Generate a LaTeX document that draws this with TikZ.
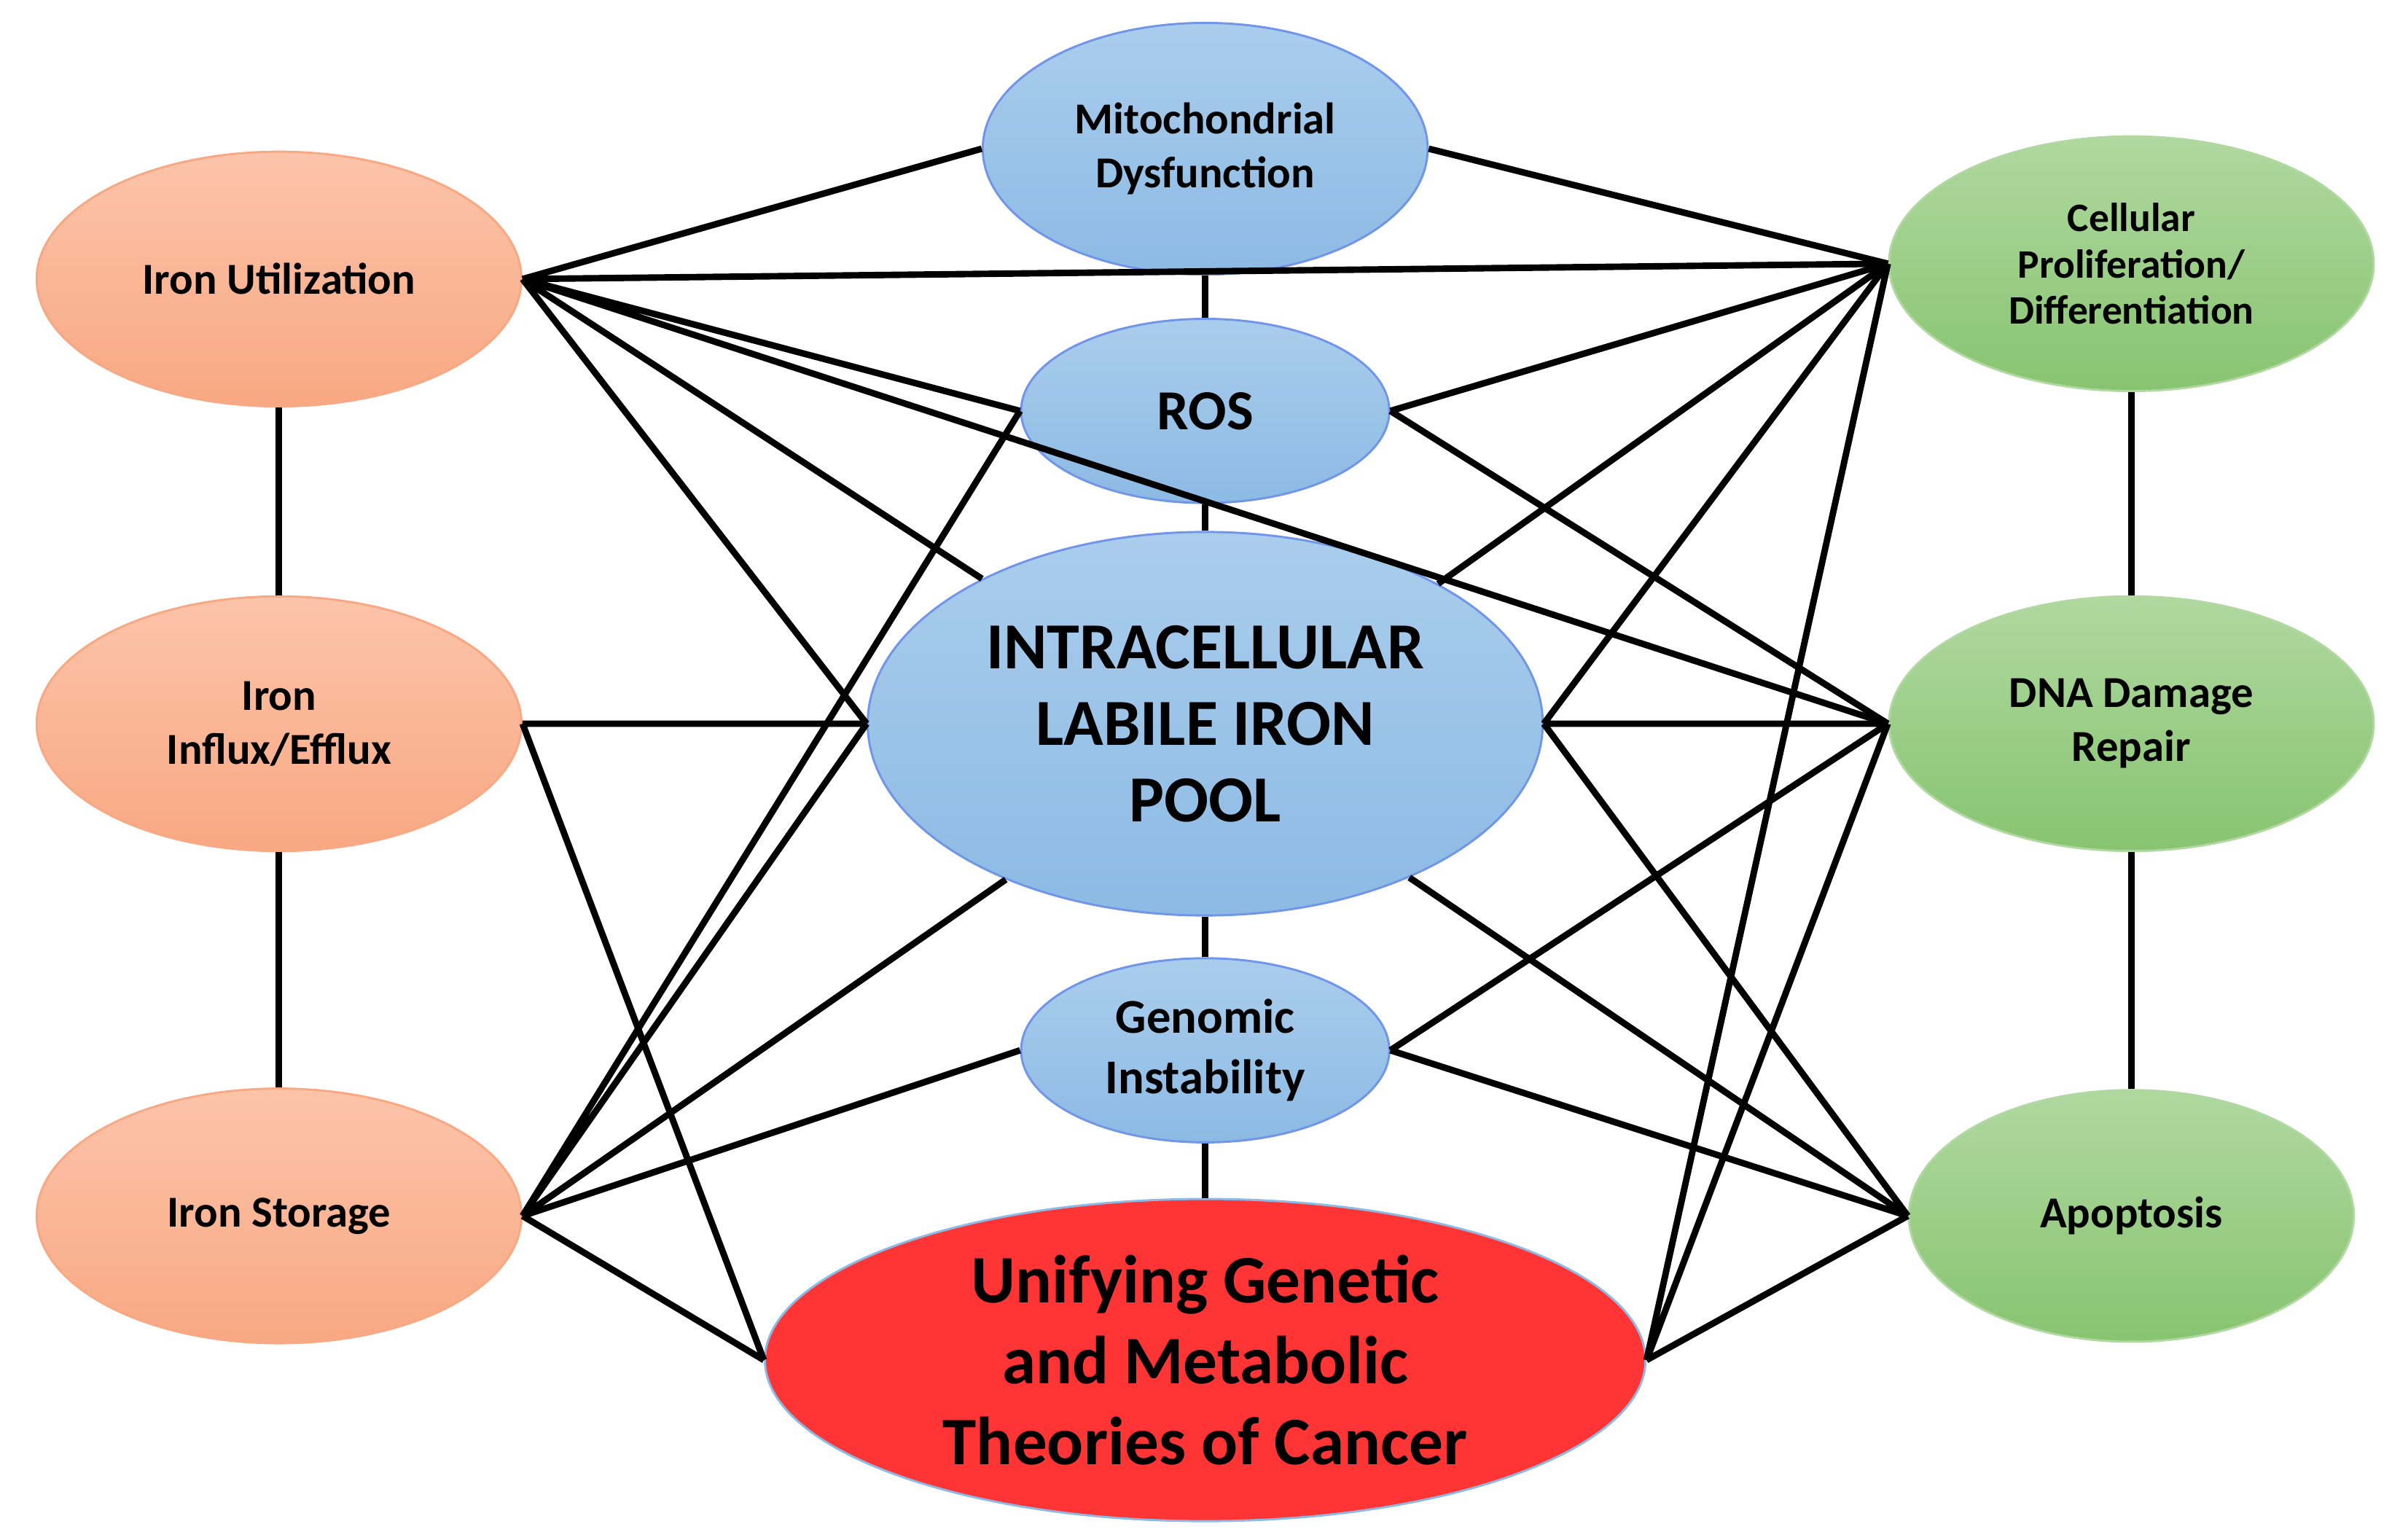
\documentclass[tikz,border=0pt]{standalone}
\usepackage{fontspec}
\setmainfont{Carlito}
\usetikzlibrary{shapes.geometric}
\definecolor{orangeA}{RGB}{252,196,170}
\definecolor{orangeB}{RGB}{248,168,130}
\definecolor{blueA}{RGB}{170,205,236}
\definecolor{blueB}{RGB}{140,186,228}
\definecolor{greenA}{RGB}{176,216,160}
\definecolor{greenB}{RGB}{135,196,112}
\definecolor{redF}{RGB}{255,52,52}
\begin{document}
\begin{tikzpicture}[x=0.01cm,y=-0.01cm,
    oval/.style={ellipse,inner sep=0pt,align=center,font=\bfseries},
    iron/.style={oval,top color=orangeA,bottom color=orangeB,draw=orangeB,
        minimum width=3.16cm,minimum height=1.66cm},
    hub/.style={oval,top color=blueA,bottom color=blueB,draw=blueB!80!blue},
    fate/.style={oval,top color=greenA,bottom color=greenB,draw=greenA,
        minimum width=3.16cm,minimum height=1.66cm},
    link/.style={line width=1.2pt,black},
   ]
    \useasboundingbox (0,0) rectangle (1560,1004);

    % left column
    \node (util)   [iron,font=\bfseries\fontsize{8.2}{9}\selectfont] at (182,182) {Iron Utilization};
    \node (influx) [iron,font=\bfseries\fontsize{8.2}{10}\selectfont]  at (182,472) {Iron\\Influx/Efflux};
    \node (store)  [iron,font=\bfseries\fontsize{8.2}{9}\selectfont] at (182,793) {Iron Storage};

    % middle column
    \node (mito) [hub,minimum width=2.9cm,minimum height=1.64cm,
        font=\bfseries\fontsize{8.2}{10}\selectfont] at (786,97) {Mitochondrial\\Dysfunction};
    \node (ros)  [hub,minimum width=2.4cm,minimum height=1.2cm,
        font=\bfseries\fontsize{10.5}{11}\selectfont] at (786,268) {ROS};
    \node (pool) [hub,minimum width=4.4cm,minimum height=2.5cm,
        font=\bfseries\fontsize{12.2}{14.2}\selectfont] at (786,472) {INTRACELLULAR\\LABILE IRON\\POOL};
    \node (geno) [hub,minimum width=2.4cm,minimum height=1.2cm,
        font=\bfseries\fontsize{9}{11.2}\selectfont] at (786,685) {Genomic\\Instability};
    \node (unify) [oval,fill=redF,draw=blueB,minimum width=5.74cm,minimum height=2.1cm,
        font=\bfseries\fontsize{12.6}{15}\selectfont] at (786,887) {Unifying Genetic\\and Metabolic\\Theories of Cancer};

    % right column
    \node (prolif) [fate,font=\bfseries\fontsize{7.5}{8.6}\selectfont] at (1390,172) {Cellular\\Proliferation/\\Differentiation};
    \node (dna)    [fate,font=\bfseries\fontsize{8.2}{10}\selectfont]  at (1390,472) {DNA Damage\\Repair};
    \node (apop)   [fate,minimum width=2.9cm,minimum height=1.64cm,
        font=\bfseries\fontsize{8.2}{9}\selectfont] at (1390,793) {Apoptosis};

    % vertical links
    \draw[link] (util) -- (influx) (influx) -- (store);
    \draw[link] (prolif) -- (dna) (dna) -- (apop);
    \draw[link] (mito) -- (ros) (ros) -- (pool) (pool) -- (geno) (geno) -- (unify);

    % links from the left
    \draw[link] (util.east) -- (mito.west)  (util.east) -- (prolif.west)
          (util.east) -- (ros.west)  (util.east) -- (dna.west)
          (util.east) -- (pool.147)  (util.east) -- (pool.west);
    \draw[link] (influx.east) -- (pool.west)  (influx.east) -- (unify.west);
    \draw[link] (store.east) -- (ros.west)  (store.east) -- (pool.west)
          (store.east) -- (pool.218)  (store.east) -- (geno.west)
          (store.east) -- (unify.west);

    % links to the right
    \draw[link] (mito.east) -- (prolif.west)  (ros.east) -- (prolif.west)
          (ros.east) -- (dna.west)  (pool.31) -- (prolif.west)
          (pool.east) -- (prolif.west)  (pool.east) -- (dna.west)
          (pool.east) -- (apop.west)  (pool.323) -- (apop.west)
          (geno.east) -- (dna.west)  (geno.east) -- (apop.west)
          (unify.east) -- (prolif.west)  (unify.east) -- (dna.west)
          (unify.east) -- (apop.west);
\end{tikzpicture}
\end{document}
